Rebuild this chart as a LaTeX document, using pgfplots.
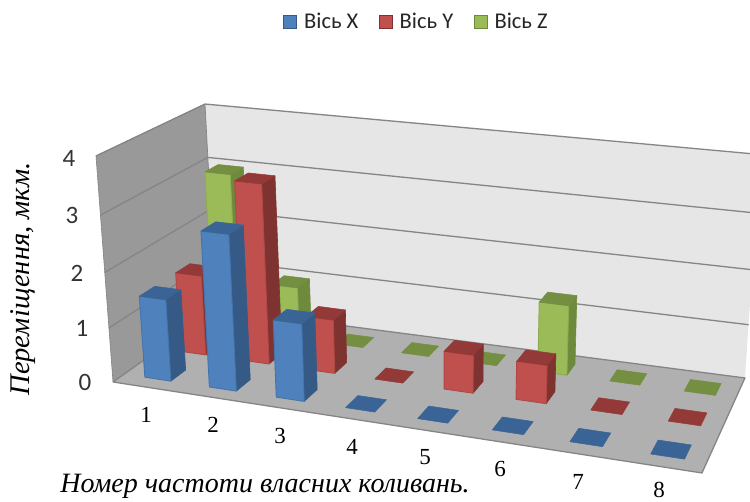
\documentclass[border=0pt]{standalone}
\usepackage{pgfplots}
\usepackage{fontspec}
\pgfplotsset{compat=1.18}
\setmainfont{Liberation Serif}
\newfontfamily\calibri{Carlito}

\definecolor{bluefront}{HTML}{4F81BD}
\definecolor{blueside}{HTML}{355A86}
\definecolor{bluetop}{HTML}{3A6496}
\definecolor{blueedge}{HTML}{4474AC}
\definecolor{redfront}{HTML}{C0504D}
\definecolor{redside}{HTML}{7F3331}
\definecolor{redtop}{HTML}{933937}
\definecolor{rededge}{HTML}{B04845}
\definecolor{greenfront}{HTML}{9BBB59}
\definecolor{greenside}{HTML}{6E8A3C}
\definecolor{greentop}{HTML}{748F42}
\definecolor{greenedge}{HTML}{8DAB4F}
\definecolor{floorfill}{HTML}{B0B0B0}
\definecolor{backwall}{HTML}{E6E6E6}
\definecolor{sidewall}{HTML}{999999}
\definecolor{gridgrey}{HTML}{858585}

% Perspective projection: u along the categories, v along the series,
% #3 the value on the 0..4 scale; the result lands in #4 and #5.
\newcommand\proj[5]{%
  \pgfmathsetmacro\pw{(#3)/4}%
  \pgfmathsetmacro\pd{-0.14088*(#1)+0.12487*(#2)+1-0.06*\pw}%
  \pgfmathsetmacro#4{(490.10*(#1)+129.97*(#2)+113+\pw*(-22.76-1.9*(#2)-6.1*(#1)))/\pd}%
  \pgfmathsetmacro#5{(24.36*(#1)-34.41*(#2)+382+\pw*(-235.4-1.4*(#2)+7.6*(#1)))/\pd}%
}

% One closed face through four (u,v,value) corners.
\newcommand\face[5]{%
  \proj#2\xa\ya \proj#3\xb\yb \proj#4\xc\yc \proj#5\xd\yd
  \addplot[#1,line join=round,forget plot] coordinates
    {(\xa,\ya)(\xb,\yb)(\xc,\yc)(\xd,\yd)(\xa,\ya)};
}

% One bar: colour prefix, category number, series number, value.
\newcommand\onebar[4]{%
  \pgfmathsetmacro\ul{(#2-0.5)/8+0.004-0.0255}%
  \pgfmathsetmacro\ur{(#2-0.5)/8+0.004+0.0255}%
  \pgfmathsetmacro\vf{(#3-0.5)/3-0.069}%
  \pgfmathsetmacro\vb{(#3-0.5)/3+0.069}%
  \pgfmathsetmacro\barval{#4}%
  \ifdim\barval pt>0pt
    \face{fill=#1side,draw=#1side,line width=0.6pt}{{\ur}{\vf}{0}}{{\ur}{\vb}{0}}{{\ur}{\vb}{\barval}}{{\ur}{\vf}{\barval}}
    \face{fill=#1front,draw=#1edge,line width=0.9pt}{{\ul}{\vf}{0}}{{\ur}{\vf}{0}}{{\ur}{\vf}{\barval}}{{\ul}{\vf}{\barval}}
  \fi
  \face{fill=#1top,draw=#1top,line width=0.5pt}{{\ul}{\vf}{\barval}}{{\ur}{\vf}{\barval}}{{\ur}{\vb}{\barval}}{{\ul}{\vb}{\barval}}
}

% A row of bars for one series.
\newcommand\barrow[3]{%
  \def\catno{0}%
  \pgfplotsforeachungrouped \rowval in {#3}{%
    \pgfmathtruncatemacro\catno{\catno+1}%
    \onebar{#1}{\catno}{#2}{\rowval}%
  }%
}

% One gridline, running around the side wall and the back wall.
\newcommand\gridline[1]{%
  \proj{0}{0}{#1}\xa\ya \proj{0}{1}{#1}\xb\yb \proj{1}{1}{#1}\xc\yc
  \addplot[draw=gridgrey,line width=1.3pt,forget plot] coordinates
    {(\xa,\ya)(\xb,\yb)(\xc,\yc)};
}

\begin{document}
\begin{tikzpicture}
\begin{axis}[
  scale only axis,width=750pt,height=502pt,
  xmin=0,xmax=750,ymin=0,ymax=502,y dir=reverse,
  hide axis,
  legend style={at={(axis cs:416.5,22)},anchor=center,draw=none,fill=none,
    legend columns=3,font=\calibri\fontsize{22.5}{22.5}\selectfont,
    text=black!85,inner sep=0pt,outer sep=0pt,
    /tikz/every odd column/.append style={column sep=5pt},
    /tikz/every even column/.append style={column sep=18.5pt}},
  legend cell align=left,
  legend image code/.code={\draw[#1,line width=0.8pt] (0pt,-6.5pt) rectangle (13pt,6.5pt);},
]
% legend keys
\addlegendimage{fill=bluefront,draw=blueside}
\addlegendentry{Вісь X}
\addlegendimage{fill=redfront,draw=redside}
\addlegendentry{Вісь Y}
\addlegendimage{fill=greenfront,draw=greenside}
\addlegendentry{Вісь Z}

% walls and floor
\face{fill=sidewall,draw=sidewall!85!black,line width=0.6pt}{{0}{0}{0}}{{0}{1}{0}}{{0}{1}{4}}{{0}{0}{4}}
\face{fill=backwall,draw=none}{{0}{1}{0}}{{1}{1}{0}}{{1}{1}{4}}{{0}{1}{4}}
\gridline{1}\gridline{2}\gridline{3}\gridline{4}
\face{fill=floorfill,draw=gridgrey,line width=1.3pt}{{0}{0}{0}}{{1}{0}{0}}{{1}{1}{0}}{{0}{1}{0}}
\proj{0}{1}{0}\xa\ya \proj{0}{1}{4}\xb\yb
\addplot[draw=gridgrey,line width=0.7pt,forget plot] coordinates {(\xa,\ya)(\xb,\yb)};

% bars, rearmost series first
\barrow{green}{3}{3.0,1.0,0,0,0,1.3,0,0}
\barrow{red}{2}{1.5,3.3,1.0,0,0.7,0.7,0,0}
\barrow{blue}{1}{1.5,2.8,1.4,0,0,0,0,0}

% value scale
\node[font=\calibri\fontsize{25}{25}\selectfont,text=black!80] at (axis cs:69,158) {4};
\node[font=\calibri\fontsize{25}{25}\selectfont,text=black!80] at (axis cs:72,215) {3};
\node[font=\calibri\fontsize{25}{25}\selectfont,text=black!80] at (axis cs:77,273) {2};
\node[font=\calibri\fontsize{25}{25}\selectfont,text=black!80] at (axis cs:82,328) {1};
\node[font=\calibri\fontsize{25}{25}\selectfont,text=black!80] at (axis cs:85,382) {0};

% category labels
\node[font=\fontsize{23}{23}\selectfont,inner sep=0pt] at (axis cs:146,415) {1};
\node[font=\fontsize{23}{23}\selectfont,inner sep=0pt] at (axis cs:213,425) {2};
\node[font=\fontsize{23}{23}\selectfont,inner sep=0pt] at (axis cs:280,436) {3};
\node[font=\fontsize{23}{23}\selectfont,inner sep=0pt] at (axis cs:352,447) {4};
\node[font=\fontsize{23}{23}\selectfont,inner sep=0pt] at (axis cs:425,457) {5};
\node[font=\fontsize{23}{23}\selectfont,inner sep=0pt] at (axis cs:500,469) {6};
\node[font=\fontsize{23}{23}\selectfont,inner sep=0pt] at (axis cs:578,482) {7};
\node[font=\fontsize{23}{23}\selectfont,inner sep=0pt] at (axis cs:659,490) {8};

% axis titles
\node[font=\itshape\fontsize{28}{28}\selectfont,inner sep=0pt] at (axis cs:265,486) {Номер частоти власних коливань.};
\node[font=\itshape\fontsize{28.5}{28.5}\selectfont,rotate=90,inner sep=0pt] at (axis cs:23,279) {Переміщення, мкм.};
\end{axis}
% the page is exactly the plotting window
\pgfresetboundingbox
\path[use as bounding box] (0,0) rectangle (750pt,502pt);
\end{tikzpicture}
\end{document}
